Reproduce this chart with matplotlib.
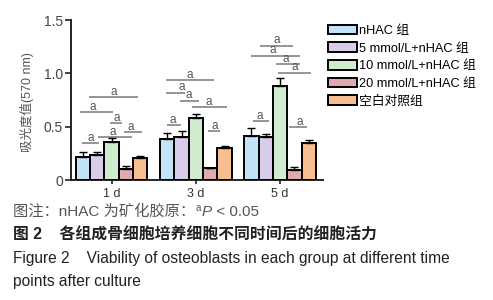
import matplotlib
matplotlib.use("Agg")
import matplotlib.pyplot as plt
import numpy as np

plt.rcParams['font.family'] = ['Liberation Sans', 'Noto Sans CJK SC', 'DejaVu Sans']

# ---- data ----
days = ['1 d', '3 d', '5 d']
groups = ['nHAC 组', '5 mmol/L+nHAC 组', '10 mmol/L+nHAC 组', '20 mmol/L+nHAC 组', '空白对照组']
colors = ['#c2e4f6', '#d9cbea', '#d0ebcd', '#dfaab0', '#f7bf8f']

nhac = [0.218, 0.384, 0.412]
m5 = [0.234, 0.406, 0.400]
m10 = [0.353, 0.578, 0.881]
m20 = [0.106, 0.110, 0.094]
blank = [0.203, 0.303, 0.350]

nhac_err = [0.040, 0.053, 0.072]
m5_err = [0.030, 0.056, 0.028]
m10_err = [0.037, 0.041, 0.072]
m20_err = [0.024, 0.006, 0.025]
blank_err = [0.025, 0.016, 0.025]

means = [nhac, m5, m10, m20, blank]
errs = [nhac_err, m5_err, m10_err, m20_err, blank_err]

# significance lines: (day index, x0 rel, x1 rel, y, label x rel)
sig_day = [0, 0, 0, 0, 0, 0, 1, 1, 1, 1, 1, 1, 2, 2, 2, 2, 2, 2]
sig_x0 = [-0.265, -0.37, -0.02, 0.15, -0.16, -0.345,
          -0.357, -0.357, -0.19, -0.04, -0.345, 0.14,
          -0.237, -0.345, -0.045, -0.02, -0.316, 0.11]
sig_x1 = [0.315, 0.02, 0.12, 0.36, 0.24, -0.145,
          0.21, -0.13, 0.04, 0.37, -0.175, 0.29,
          0.15, 0.23, 0.23, 0.367, -0.127, 0.32]
sig_y = [0.775, 0.635, 0.53, 0.45, 0.40, 0.345,
         0.9375, 0.82, 0.745, 0.68, 0.515, 0.455,
         1.26, 1.165, 1.085, 1.006, 0.55, 0.495]
sig_lx = [0.025, -0.225, 0.063, 0.225, 0.019, -0.249,
          -0.073, -0.164, -0.085, 0.151, -0.271, 0.222,
          -0.036, -0.088, 0.071, 0.169, -0.245, 0.228]

# ---- figure ----
fig = plt.figure(figsize=(4.93, 3.0), dpi=100)
ax = fig.add_axes([0.1434, 0.40, 0.512, 0.5333])

x = np.arange(len(days))
w = 0.17
for i in range(5):
    ax.bar(x + (i - 2) * w, means[i], w, color=colors[i], edgecolor='black',
           linewidth=1.4, label=groups[i],
           yerr=[np.zeros(3), errs[i]], capsize=2.8,
           error_kw=dict(ecolor='black', elinewidth=1.0, capthick=1.0), zorder=3)

for d, a0, a1, yy, lx in zip(sig_day, sig_x0, sig_x1, sig_y, sig_lx):
    ax.plot([x[d] + a0, x[d] + a1], [yy, yy], color='#8c8c8c', lw=1.3,
            solid_capstyle='butt', zorder=2)
    ax.text(x[d] + lx, yy + 0.022, 'a', ha='center', va='baseline',
            fontsize=8.5, color='#555555', zorder=4)

ax.set_xlim(-0.485, 2.51)
ax.set_ylim(0, 1.5)
ax.set_yticks([0, 0.5, 1.0, 1.5])
ax.set_yticklabels(['0', '0.5', '1.0', '1.5'])
ax.set_xticks(x)
ax.set_xticklabels(days)
for s in ['top', 'right']:
    ax.spines[s].set_visible(False)
for s in ['left', 'bottom']:
    ax.spines[s].set_linewidth(1.4)
    ax.spines[s].set_color('#222222')
ax.tick_params(axis='y', length=4, width=1.2, pad=1.5, labelsize=10,
               labelcolor='#444444', color='#222222')
ax.tick_params(axis='x', length=3, width=1.2, pad=3, labelsize=9,
               labelcolor='#333333', color='#222222')

fig.text(27 / 493, 1 - 101.7 / 300, '吸光度值(570 nm)', rotation=90,
         ha='center', va='center', fontsize=9, color='#555555')

ax.legend(loc='upper left', bbox_to_anchor=(328 / 493, 0.918),
          bbox_transform=fig.transFigure, frameon=False, fontsize=9.2,
          handlelength=2.3, handleheight=0.8, labelspacing=0.42,
          handletextpad=0.15, borderpad=0, borderaxespad=0)

# caption line 1 built from pieces
renderer = fig.canvas.get_renderer()
cy = 1 - 216 / 300
capc = '#555555'
t1 = fig.text(13 / 493, cy, '图注：nHAC 为矿化胶原：', ha='left', va='baseline',
              fontsize=11, color=capc)
x_px = t1.get_window_extent(renderer).x1 + 1
t2 = fig.text(x_px / 493, cy + 5 / 300, 'a', ha='left', va='baseline',
              fontsize=7, color=capc)
x_px = t2.get_window_extent(renderer).x1
t3 = fig.text(x_px / 493, cy, 'P', ha='left', va='baseline', fontsize=11,
              style='italic', color=capc)
x_px = t3.get_window_extent(renderer).x1
fig.text(x_px / 493, cy, ' < 0.05', ha='left', va='baseline', fontsize=11,
         color=capc)

fig.text(13 / 493, 1 - 235 / 300, '图 2    各组成骨细胞培养细胞不同时间后的细胞活力',
         ha='left', va='center', fontsize=11.4, fontweight='bold', color='#222222')
fig.text(13 / 493, 1 - 259 / 300, 'Figure 2    Viability of osteoblasts in each group at different time',
         ha='left', va='center', fontsize=11.2, color='#222222')
fig.text(13 / 493, 1 - 281.7 / 300, 'points after culture',
         ha='left', va='center', fontsize=11.2, color='#222222')

fig.savefig('out.png', dpi=100)
